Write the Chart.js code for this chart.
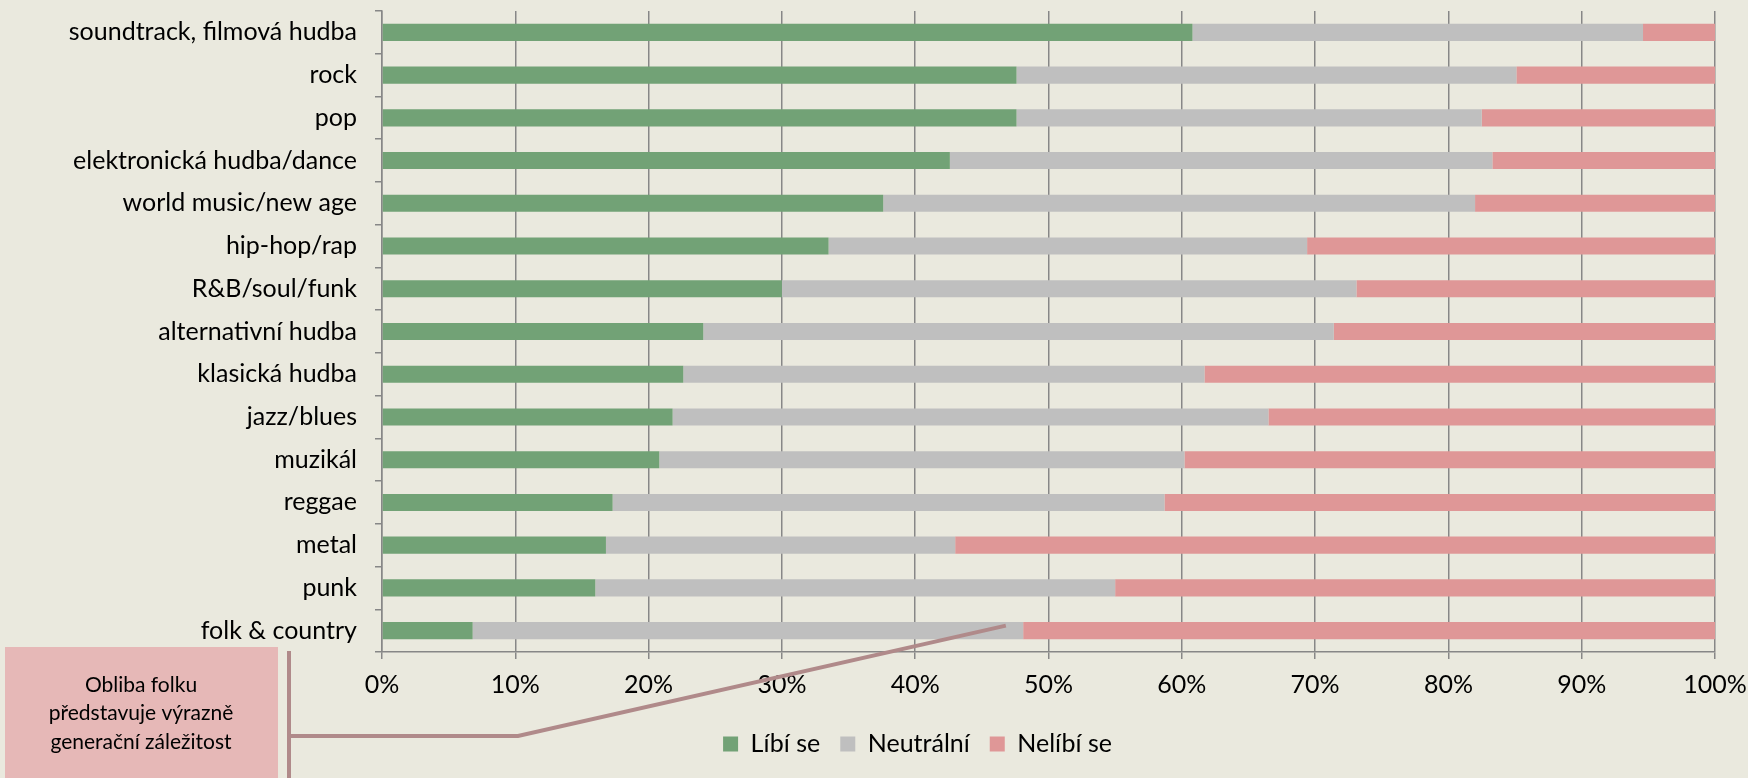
<!DOCTYPE html>
<html lang="cs">
<head>
<meta charset="UTF-8">
<title>Obliba hudebních žánrů</title>
<script src="https://cdn.jsdelivr.net/npm/chart.js"></script>
<style>
  html, body { margin: 0; padding: 0; background: #eae9de; overflow: hidden; }
</style>
</head>
<body>
<canvas id="zanry" width="1748" height="778"></canvas>
<script>
  // hodnoty (procenta)
  const genres = [
    'soundtrack, filmová hudba', 'rock', 'pop', 'elektronická hudba/dance',
    'world music/new age', 'hip-hop/rap', 'R&B/soul/funk', 'alternativní hudba',
    'klasická hudba', 'jazz/blues', 'muzikál', 'reggae', 'metal', 'punk', 'folk & country'
  ];
  const likes    = [60.8, 47.6, 47.6, 42.6, 37.6, 33.5, 30.0, 24.1, 22.6, 21.8, 20.8, 17.3, 16.8, 16.0, 6.8];
  const neutral  = [33.8, 37.5, 34.9, 40.7, 44.4, 35.9, 43.1, 47.3, 39.1, 44.7, 39.4, 41.4, 26.2, 39.0, 41.3];
  const dislikes = [5.4, 14.9, 17.5, 16.7, 18.0, 30.6, 26.9, 28.6, 38.3, 33.5, 39.8, 41.3, 57.0, 45.0, 51.9];
  const seriesNames = ['Líbí se', 'Neutrální', 'Nelíbí se'];
  const seriesColors = ['#72a276', '#bfbfbf', '#df9797'];
  const noteLines = ['Obliba folku', 'představuje výrazně', 'generační záležitost'];

  const FONT = 'Lato, "Noto Sans", sans-serif';
  const gridColor = '#878787';

  // posun legendy (v originále není vycentrovaná na celé plátno)
  const legendShift = {
    id: 'legendShift',
    afterLayout(chart) {
      const lg = chart.legend;
      const dx = 60;
      lg.left += dx; lg.right += dx;
      const h = lg.height;
      lg.top = 739 - h / 2; lg.bottom = lg.top + h;
    }
  };

  // popisek s čarou u folku
  const callout = {
    id: 'callout',
    afterDraw(chart) {
      const ctx = chart.ctx;
      const xs = chart.scales.x, ys = chart.scales.y;
      ctx.save();
      ctx.fillStyle = '#e6b8b7';
      ctx.fillRect(5, 647, 273, 131);

      ctx.strokeStyle = '#b08a8a';
      ctx.lineWidth = 4;
      ctx.beginPath();
      ctx.moveTo(289, 651);
      ctx.lineTo(289, 778);
      ctx.stroke();
      ctx.beginPath();
      ctx.moveTo(289, 736);
      ctx.lineTo(518, 736);
      ctx.lineTo(xs.getPixelForValue(46.8), ys.getPixelForValue(genres.length - 1) - 5);
      ctx.stroke();

      ctx.fillStyle = '#000';
      ctx.font = '21px ' + FONT;
      ctx.textAlign = 'center';
      ctx.textBaseline = 'middle';
      noteLines.forEach((t, i) => ctx.fillText(t, 141, 685 + i * 28.5));
      ctx.restore();
    }
  };

  Chart.defaults.font.family = FONT;
  Chart.defaults.font.size = 25;
  Chart.defaults.color = '#000';

  new Chart(document.getElementById('zanry'), {
    type: 'bar',
    data: {
      labels: genres,
      datasets: [
        { label: seriesNames[0], data: likes, backgroundColor: seriesColors[0] },
        { label: seriesNames[1], data: neutral, backgroundColor: seriesColors[1] },
        { label: seriesNames[2], data: dislikes, backgroundColor: seriesColors[2] }
      ]
    },
    options: {
      indexAxis: 'y',
      responsive: false,
      animation: false,
      devicePixelRatio: 1,
      categoryPercentage: 1,
      barPercentage: 0.4,
      layout: { padding: { top: 11, right: 33, left: 0, bottom: 0 } },
      scales: {
        x: {
          type: 'linear',
          stacked: true,
          min: 0,
          max: 100,
          afterFit(scale) {
            const lh = scale.chart.legend ? scale.chart.legend.height : 0;
            scale.height = 126 - lh;
            scale.paddingLeft = 0;
            scale.paddingRight = 0;
          },
          ticks: { stepSize: 10, padding: 11, callback: v => v + '%' },
          grid: { color: gridColor, lineWidth: 1.5, tickLength: 7 },
          border: { color: gridColor, width: 1.5 }
        },
        y: {
          stacked: true,
          afterFit(scale) {
            scale.width = 382;
            scale.paddingTop = 0;
            scale.paddingBottom = 0;
          },
          ticks: { padding: 18 },
          grid: { offset: true, drawOnChartArea: false, color: gridColor, lineWidth: 1.5, tickLength: 7 },
          border: { color: gridColor, width: 1.5 }
        }
      },
      plugins: {
        legend: {
          position: 'bottom',
          labels: { boxWidth: 15, boxHeight: 15, padding: 20, font: { size: 25 } }
        },
        tooltip: { enabled: false }
      }
    },
    plugins: [legendShift, callout]
  });
</script>
</body>
</html>
